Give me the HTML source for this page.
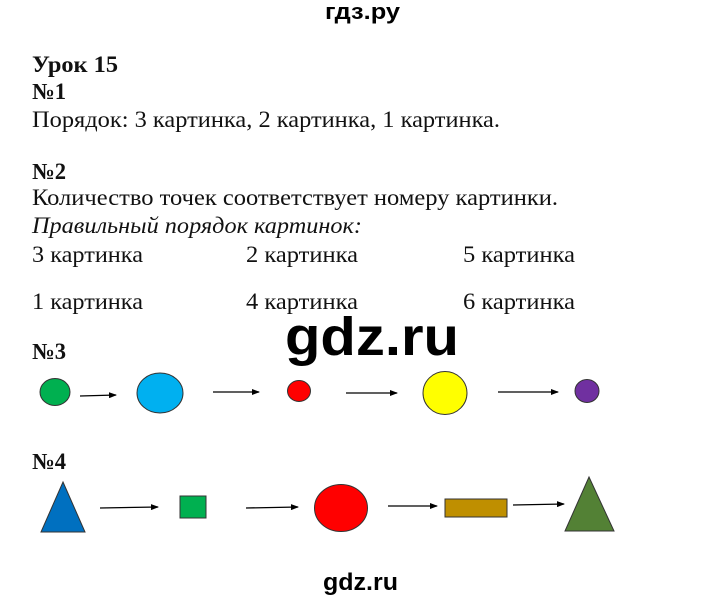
<!DOCTYPE html>
<html><head><meta charset="utf-8"><style>
html,body{margin:0;padding:0;background:#fff;width:720px;height:602px;overflow:hidden}
svg{display:block}
.t{font-family:"Liberation Serif",serif;font-size:23px;fill:#111}
.b{font-weight:bold}
.w{font-family:"Liberation Sans",sans-serif;font-weight:bold;fill:#000}
</style></head><body>
<svg width="720" height="602" viewBox="0 0 720 602" xmlns="http://www.w3.org/2000/svg">
<defs><marker id="a" markerWidth="8" markerHeight="6" refX="7" refY="3" orient="auto" markerUnits="userSpaceOnUse"><path d="M0,0 L8,3 L0,6z" fill="#000"/></marker></defs>
<text class="w" x="325" y="19" font-size="22" textLength="75" lengthAdjust="spacingAndGlyphs">гдз.ру</text>
<text class="t b" x="32" y="72" textLength="86" lengthAdjust="spacingAndGlyphs">Урок 15</text>
<text class="t b" x="32" y="99" textLength="34" lengthAdjust="spacingAndGlyphs">№1</text>
<text class="t" x="32" y="127" textLength="468" lengthAdjust="spacingAndGlyphs">Порядок: 3 картинка, 2 картинка, 1 картинка.</text>
<text class="t b" x="32" y="179" textLength="34" lengthAdjust="spacingAndGlyphs">№2</text>
<text class="t" x="32" y="205" textLength="526" lengthAdjust="spacingAndGlyphs">Количество точек соответствует номеру картинки.</text>
<text class="t" x="32" y="233" textLength="330" lengthAdjust="spacingAndGlyphs" font-style="italic">Правильный порядок картинок:</text>
<text class="t" x="32" y="262" textLength="111" lengthAdjust="spacingAndGlyphs">3 картинка</text>
<text class="t" x="246" y="262" textLength="112" lengthAdjust="spacingAndGlyphs">2 картинка</text>
<text class="t" x="463" y="262" textLength="112" lengthAdjust="spacingAndGlyphs">5 картинка</text>
<text class="t" x="32" y="309" textLength="111" lengthAdjust="spacingAndGlyphs">1 картинка</text>
<text class="t" x="246" y="309" textLength="112" lengthAdjust="spacingAndGlyphs">4 картинка</text>
<text class="t" x="463" y="309" textLength="112" lengthAdjust="spacingAndGlyphs">6 картинка</text>
<text class="w" x="285" y="355" font-size="54" textLength="174" lengthAdjust="spacingAndGlyphs">gdz.ru</text>
<text class="t b" x="32" y="359" textLength="34" lengthAdjust="spacingAndGlyphs">№3</text>
<text class="t b" x="32" y="469" textLength="34" lengthAdjust="spacingAndGlyphs">№4</text>
<text class="w" x="323" y="590" font-size="24" textLength="75" lengthAdjust="spacingAndGlyphs">gdz.ru</text>
<g stroke="#333" stroke-width="1">
<ellipse cx="55" cy="392" rx="15" ry="13.5" fill="#00b050"/>
<ellipse cx="160" cy="393" rx="23" ry="20" fill="#00b0f0"/>
<ellipse cx="299" cy="391" rx="11.5" ry="10.5" fill="#ff0000"/>
<ellipse cx="445" cy="393" rx="22" ry="21.5" fill="#ffff00"/>
<ellipse cx="587" cy="391" rx="12" ry="11.5" fill="#7030a0"/>
<path d="M63,482 L85,532 L41,532z" fill="#0070c0"/>
<rect x="180" y="496" width="26" height="22" fill="#00b050"/>
<ellipse cx="341" cy="508" rx="26.5" ry="23.5" fill="#ff0000"/>
<rect x="445" y="499" width="62" height="18" fill="#bf8f00"/>
<path d="M589,477 L614,531 L565,531z" fill="#538135"/>
</g>
<g stroke="#000" stroke-width="1.3" marker-end="url(#a)">
<line x1="80" y1="396" x2="116" y2="395"/>
<line x1="213" y1="392" x2="259" y2="392"/>
<line x1="346" y1="393" x2="397" y2="393"/>
<line x1="498" y1="392" x2="558" y2="392"/>
<line x1="100" y1="508" x2="158" y2="507"/>
<line x1="246" y1="508" x2="298" y2="507"/>
<line x1="388" y1="506" x2="437" y2="506"/>
<line x1="513" y1="505" x2="564" y2="504"/>
</g>
</svg>
</body></html>
